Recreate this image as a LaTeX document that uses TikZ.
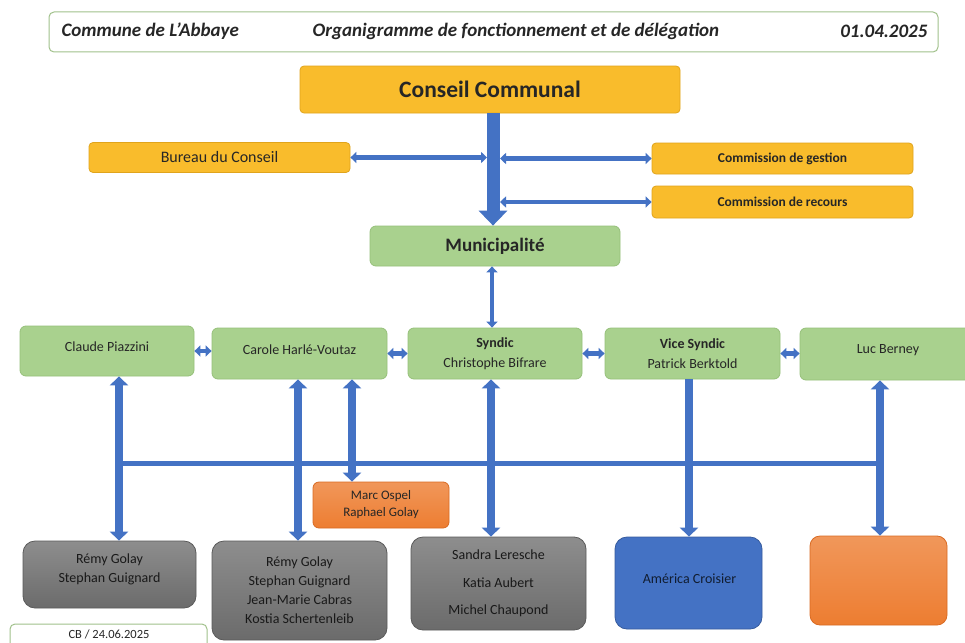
\documentclass[tikz,border=0pt]{standalone}
\usepackage{fontspec}
\setmainfont{Carlito}
\usetikzlibrary{arrows.meta}
\definecolor{myblue}{HTML}{4472C4}
\definecolor{mygold}{HTML}{F9BC2C}
\definecolor{mygoldline}{HTML}{E0A41C}
\definecolor{mygreen}{HTML}{A9D18E}
\definecolor{mygreenline}{HTML}{96C07A}
\definecolor{mygray}{HTML}{7E7E7E}
\definecolor{mygrayline}{HTML}{5A5A5A}
\definecolor{myorange}{HTML}{ED7D31}
\definecolor{myorangeline}{HTML}{D96A22}
\definecolor{mytext}{HTML}{262626}
\tikzset{
  goldbox/.style={draw=mygoldline, fill=mygold, rounded corners=4pt, line width=0.8pt, text=mytext, align=center},
  greenbox/.style={draw=mygreenline, fill=mygreen, rounded corners=6pt, line width=0.8pt, text=mytext, align=center, font=\fontsize{14}{20}\selectfont},
  greentext/.style={text=mytext, align=center, font=\fontsize{14}{20}\selectfont},
  graybox/.style={draw=mygrayline, top color=mygray!88!white, bottom color=mygray!85!black, rounded corners=12pt, line width=0.8pt, text=black!90, align=center, font=\fontsize{14}{19}\selectfont},
  orangebox/.style={draw=myorangeline, top color=myorange!80!white, bottom color=myorange, rounded corners=10pt, line width=0.8pt, text=black!85, align=center, font=\fontsize{13}{17}\selectfont},
  bluebox/.style={draw=myblue!80!black, fill=myblue, rounded corners=12pt, line width=0.8pt},
  bluetext/.style={text=black!75!myblue, align=center, font=\fontsize{14}{19}\selectfont},
  framebox/.style={draw=mygreen!80!gray, fill=white, rounded corners=5pt, line width=1pt},
  headtext/.style={font=\fontsize{19}{22}\selectfont\bfseries\itshape, text=black!85},
  bigarrow/.style={myblue, line width=13pt, -{Triangle[width=28pt,length=15pt]}},
  dblarrow/.style={myblue, line width=4.5pt, {Triangle[width=11pt,length=6pt]}-{Triangle[width=11pt,length=6pt]}},
  vdblarrow/.style={myblue, line width=8pt, {Triangle[width=18pt,length=9pt]}-{Triangle[width=18pt,length=9pt]}},
  vsglarrow/.style={myblue, line width=8pt, -{Triangle[width=18pt,length=9pt]}},
  hline/.style={myblue, line width=5pt},
}
\begin{document}
\begin{tikzpicture}[x=1pt,y=-1pt]
\clip (0,0) rectangle (965,642);
\fill[white] (0,0) rectangle (965,642);

% header
\node[framebox, minimum width=889pt, minimum height=40pt] (header) at (493.5,32) {};
\node[anchor=west, headtext] (hleft) at (58,31) {Commune de L’Abbaye};
\node[headtext] (hmid) at (516,31) {Organigramme de fonctionnement et de délégation};
\node[anchor=east, headtext] (hright) at (931,31) {01.04.2025};

% top section
\node[goldbox, minimum width=380pt, minimum height=47pt, font=\fontsize{23.5}{26}\selectfont\bfseries] (conseil) at (490,89.5) {Conseil Communal};
\node[goldbox, minimum width=261pt, minimum height=30pt, font=\fontsize{16}{18}\selectfont] (bureau) at (219.5,157.5) {Bureau du Conseil};
\node[goldbox, minimum width=261pt, minimum height=31pt, font=\fontsize{13.5}{16}\selectfont\bfseries] (gestion) at (782.5,158.5) {Commission de gestion};
\node[goldbox, minimum width=261pt, minimum height=32pt, font=\fontsize{13.5}{16}\selectfont\bfseries] (recours) at (782.5,202) {Commission de recours};
\node[greenbox, minimum width=250pt, minimum height=40pt, font=\fontsize{19}{22}\selectfont\bfseries] (muni) at (495,246) {Municipalité};

\coordinate (mainx) at (493,0);
\coordinate (mainL) at (487,0);
\coordinate (mainR) at (500,0);
\draw[bigarrow] (mainx |- conseil.south) -- (mainx |- muni.north);
\draw[dblarrow] (bureau.east) -- (mainL |- bureau.east);
\draw[dblarrow] (mainR |- gestion.west) -- (gestion.west);
\draw[dblarrow] (mainR |- recours.west) -- (recours.west);

% green row
\node[greenbox, minimum width=174pt, minimum height=50pt] (claude) at (107,351) {};
\node[greentext] (claudeT) at (107,347) {Claude Piazzini};
\node[greenbox, minimum width=175pt, minimum height=51pt] (carole) at (299.5,353.5) {};
\node[greentext] (caroleT) at (299.5,349.5) {Carole Harlé-Voutaz};
\node[greenbox, minimum width=174pt, minimum height=51pt] (syndic) at (495,353.5) {\textbf{Syndic}\\Christophe Bifrare};
\node[greenbox, minimum width=175pt, minimum height=51pt] (vice) at (692.5,353.5) {\textbf{Vice Syndic}\\Patrick Berktold};
\node[greenbox, minimum width=180pt, minimum height=52pt] (luc) at (890,354) {};
\node[greentext] (lucT) at (888,350) {Luc Berney};

\coordinate (synx) at (492,0);
\draw[dblarrow] (synx |- muni.south) -- (synx |- syndic.north);
\draw[dblarrow] (claude.east) -- (claude.east -| carole.west);
\draw[dblarrow] (carole.east) -- (carole.east -| syndic.west);
\draw[dblarrow] (syndic.east) -- (syndic.east -| vice.west);
\draw[dblarrow] (vice.east) -- (vice.east -| luc.west);

% bottom boxes
\node[graybox, minimum width=173pt, minimum height=67pt] (g1) at (109.5,574.5) {};
\node[greentext, text=black!90, font=\fontsize{14}{19}\selectfont] (g1T) at (109.5,569.5) {Rémy Golay\\Stephan Guignard};
\node[graybox, minimum width=175pt, minimum height=99pt] (g2) at (299.5,590.5) {Rémy Golay\\Stephan Guignard\\Jean-Marie Cabras\\Kostia Schertenleib};
\node[graybox, minimum width=175pt, minimum height=93pt, font=\fontsize{14}{27.5}\selectfont] (g3) at (498.5,583.5) {Sandra Leresche\\Katia Aubert\\Michel Chaupond};
\node[bluebox, minimum width=147pt, minimum height=92pt] (amer) at (688.5,583) {};
\node[bluetext] (amerT) at (689.5,579) {América Croisier};
\node[orangebox, minimum width=137pt, minimum height=89pt] (orng) at (878.5,580.5) {};
\node[orangebox, rounded corners=6pt, minimum width=136pt, minimum height=46pt] (marc) at (381,505) {Marc Ospel\\Raphael Golay};

% vertical connectors
\coordinate (v1) at (119,0);
\coordinate (v2) at (298,0);
\coordinate (v3) at (352,0);
\coordinate (v4) at (491,0);
\coordinate (v5) at (689,0);
\coordinate (v6) at (880,0);
\coordinate (hA) at (119,463);
\coordinate (hB) at (880,463);
\draw[hline] (hA) -- (hB);
\draw[vdblarrow] (v1 |- claude.south) -- (v1 |- g1.north);
\draw[vdblarrow] (v2 |- carole.south) -- (v2 |- g2.north);
\draw[vdblarrow] (v3 |- carole.south) -- (v3 |- marc.north);
\draw[vdblarrow] (v4 |- syndic.south) -- (v4 |- g3.north);
\draw[vsglarrow] (v5 |- vice.south) -- (v5 |- amer.north);
\draw[vdblarrow] (v6 |- luc.south) -- (v6 |- orng.north);

% footer
\node[framebox, minimum width=197pt, minimum height=30pt] (footer) at (108.5,639) {};
\node[font=\fontsize{12.5}{15}\selectfont, text=black!85, inner sep=1pt] (ftext) at (109,634.5) {CB / 24.06.2025};
\end{tikzpicture}
\end{document}
